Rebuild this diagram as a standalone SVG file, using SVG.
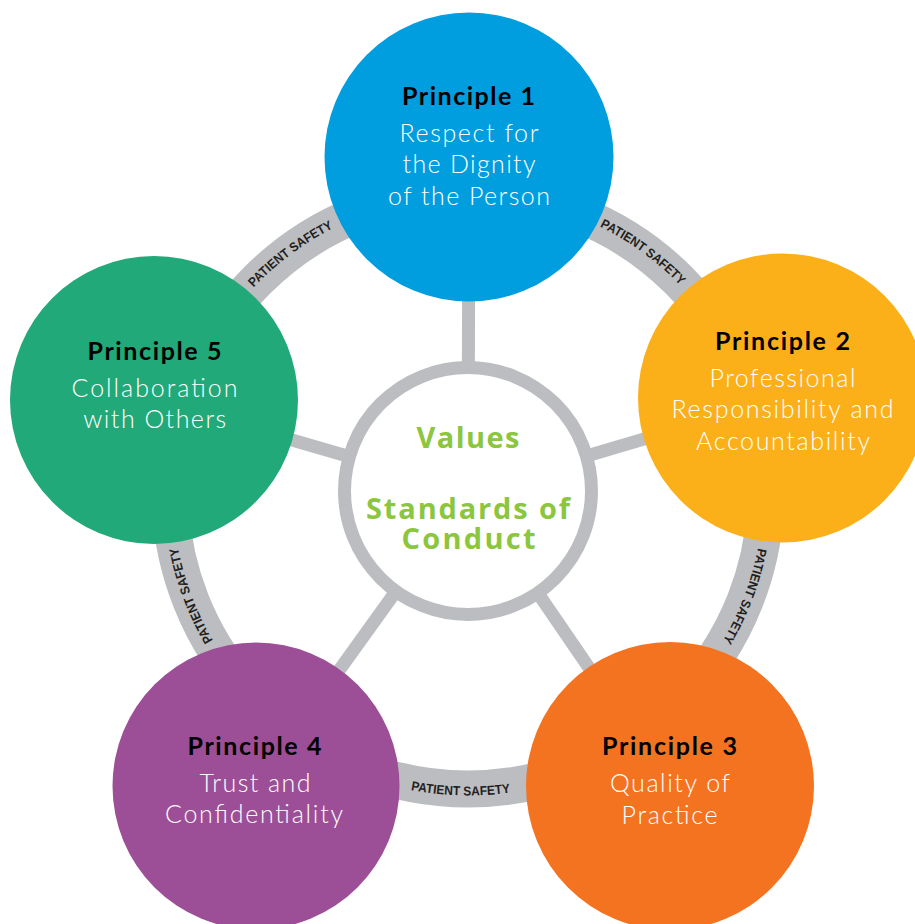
<svg xmlns="http://www.w3.org/2000/svg" width="915" height="924" viewBox="0 0 915 924">
<style>
.band{fill:none;stroke:#bcbdc0;stroke-width:37}
.spoke{stroke:#bcbdc0;stroke-width:13}
.ps{font-family:"Liberation Sans",Arial,sans-serif;font-weight:700;font-size:13px;fill:#231f20}
.title{font-family:"Lato","Liberation Sans",sans-serif;font-weight:700;font-size:25px;fill:#000;text-anchor:middle}
.sub{font-family:"Lato","Liberation Sans",sans-serif;font-weight:300;font-size:25px;fill:#fff;text-anchor:middle}
.ctr{font-family:"Open Sans","Liberation Sans",sans-serif;font-weight:700;font-size:29px;fill:#8cc63e;text-anchor:middle}
</style>
<defs>
<path id="a1" d="M220.7,329.2 A295.5,295.5 0 0 1 382.6,208.1"/>
<path id="a2" d="M550.4,207.2 A295.5,295.5 0 0 1 713.6,326.6"/>
<path id="a3" d="M763.5,495.1 A295.5,295.5 0 0 1 691.7,684.1"/>
<path id="a4" d="M356.9,774.5 A304.5,304.5 0 0 0 565.1,779.6"/>
<path id="a5" d="M244.0,683.7 A295.5,295.5 0 0 1 172.5,494.6"/>
</defs>
<rect width="915" height="924" fill="#fff"/>
<g id="connectors">
<circle class="band" cx="468" cy="491" r="298"/>
<line class="spoke" x1="468" y1="491" x2="469" y2="157"/>
<line class="spoke" x1="468" y1="491" x2="782.5" y2="398"/>
<line class="spoke" x1="468" y1="491" x2="670" y2="786"/>
<line class="spoke" x1="468" y1="491" x2="256" y2="786"/>
<line class="spoke" x1="468" y1="491" x2="154" y2="400"/>
<g class="ps">
<text><textPath href="#a1" startOffset="50%" text-anchor="middle" textLength="100" lengthAdjust="spacingAndGlyphs">PATIENT SAFETY</textPath></text>
<text><textPath href="#a2" startOffset="50%" text-anchor="middle" textLength="100" lengthAdjust="spacingAndGlyphs">PATIENT SAFETY</textPath></text>
<text><textPath href="#a3" startOffset="50%" text-anchor="middle" textLength="100" lengthAdjust="spacingAndGlyphs">PATIENT SAFETY</textPath></text>
<text><textPath href="#a4" startOffset="50%" text-anchor="middle" textLength="100" lengthAdjust="spacingAndGlyphs">PATIENT SAFETY</textPath></text>
<text><textPath href="#a5" startOffset="50%" text-anchor="middle" textLength="100" lengthAdjust="spacingAndGlyphs">PATIENT SAFETY</textPath></text>
</g>
</g>
<g id="node-center">
<circle cx="468" cy="491" r="123.5" fill="#fff" stroke="#bcbdc0" stroke-width="13"/>
<text class="ctr" x="468" y="448.3" textLength="103">Values</text>
<text class="ctr" x="468" y="519.3" textLength="204">Standards of</text>
<text class="ctr" x="468.5" y="549.3" textLength="134">Conduct</text>
</g>
<g id="node-p1">
<circle cx="469" cy="157" r="144.5" fill="#009ede"/>
<text class="title" x="468.5" y="105" textLength="133">Principle 1</text>
<text class="sub" x="469" y="141.7" textLength="139">Respect for</text>
<text class="sub" x="469" y="173.3" textLength="133">the Dignity</text>
<text class="sub" x="469" y="205" textLength="162">of the Person</text>
</g>
<g id="node-p2">
<circle cx="782.5" cy="398" r="144.5" fill="#fbb01a"/>
<text class="title" x="782.5" y="350" textLength="135">Principle 2</text>
<text class="sub" x="782.5" y="386.7" textLength="146">Professional</text>
<text class="sub" x="782.5" y="418.3" textLength="222">Responsibility and</text>
<text class="sub" x="783" y="450" textLength="174">Accountability</text>
</g>
<g id="node-p3">
<circle cx="670" cy="786" r="144" fill="#f37321"/>
<text class="title" x="669.5" y="755" textLength="135">Principle 3</text>
<text class="sub" x="670" y="791.7" textLength="120">Quality of</text>
<text class="sub" x="669.5" y="824" textLength="96">Practice</text>
</g>
<g id="node-p4">
<circle cx="256" cy="786" r="143.5" fill="#9c4f97"/>
<text class="title" x="254.5" y="755" textLength="134">Principle 4</text>
<text class="sub" x="255" y="791.7" textLength="111">Trust and</text>
<text class="sub" x="254" y="823.3" textLength="178">Confidentiality</text>
</g>
<g id="node-p5">
<circle cx="154" cy="400" r="144" fill="#21a979"/>
<text class="title" x="154.5" y="360" textLength="134">Principle 5</text>
<text class="sub" x="154.5" y="396.7" textLength="166">Collaboration</text>
<text class="sub" x="154.7" y="428.3" textLength="143">with Others</text>
</g>
</svg>
